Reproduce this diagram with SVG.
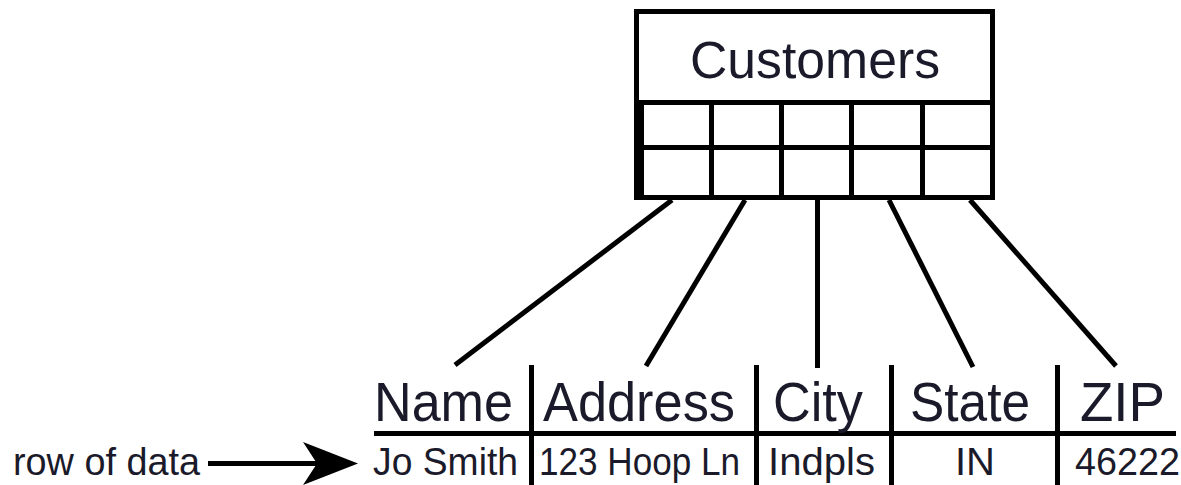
<svg xmlns="http://www.w3.org/2000/svg" width="1181" height="485" viewBox="0 0 1181 485">
<style>
.ln{stroke:#000;stroke-width:5;fill:none}
.t{font-family:"Liberation Sans",Arial,sans-serif;fill:#1a1a2a}
.h{font-size:56px}
.d{font-size:38px}
</style>
<rect width="1181" height="485" fill="#fff"/>
<g id="customers">
<rect x="636.5" y="11.5" width="356" height="186" class="ln"/>
<rect x="634" y="102" width="10" height="98" fill="#000"/>
<line x1="634" y1="102.5" x2="995" y2="102.5" class="ln"/>
<line x1="634" y1="147.5" x2="995" y2="147.5" class="ln"/>
<line x1="711.5" y1="102" x2="711.5" y2="200" class="ln"/>
<line x1="781.5" y1="102" x2="781.5" y2="200" class="ln"/>
<line x1="851.5" y1="102" x2="851.5" y2="200" class="ln"/>
<line x1="922.5" y1="102" x2="922.5" y2="200" class="ln"/>
<text class="t" x="690" y="78" font-size="51" textLength="250" lengthAdjust="spacingAndGlyphs">Customers</text>
</g>
<g id="connectors">
<line x1="672" y1="200" x2="455" y2="365" class="ln"/>
<line x1="745" y1="200" x2="646" y2="366" class="ln"/>
<line x1="817.5" y1="200" x2="817.5" y2="368" class="ln"/>
<line x1="889" y1="200" x2="973" y2="367" class="ln"/>
<line x1="970" y1="200" x2="1116" y2="366" class="ln"/>
<line x1="208" y1="463.5" x2="318" y2="463.5" class="ln"/>
<polygon points="303,442 358,463.5 303,485 317,463.5" fill="#000"/>
</g>
<g id="table">
<line x1="374" y1="433.5" x2="1176" y2="433.5" class="ln"/>
<line x1="531.5" y1="365" x2="531.5" y2="485" class="ln"/>
<line x1="756.5" y1="365" x2="756.5" y2="485" class="ln"/>
<line x1="891.5" y1="365" x2="891.5" y2="485" class="ln"/>
<line x1="1057.5" y1="365" x2="1057.5" y2="485" class="ln"/>
<text class="t h" x="374" y="421" textLength="139" lengthAdjust="spacingAndGlyphs">Name</text>
<text class="t h" x="543" y="421" textLength="192" lengthAdjust="spacingAndGlyphs">Address</text>
<text class="t h" x="773" y="421" textLength="90" lengthAdjust="spacingAndGlyphs">City</text>
<text class="t h" x="910" y="421" textLength="120" lengthAdjust="spacingAndGlyphs">State</text>
<text class="t h" x="1080" y="421" textLength="85" lengthAdjust="spacingAndGlyphs">ZIP</text>
<text class="t d" x="373" y="475" textLength="145" lengthAdjust="spacingAndGlyphs">Jo Smith</text>
<text class="t d" x="539" y="475" textLength="201" lengthAdjust="spacingAndGlyphs">123 Hoop Ln</text>
<text class="t d" x="768" y="475" textLength="107" lengthAdjust="spacingAndGlyphs">Indpls</text>
<text class="t d" x="955" y="475" textLength="40" lengthAdjust="spacingAndGlyphs">IN</text>
<text class="t d" x="1075" y="475" textLength="105" lengthAdjust="spacingAndGlyphs">46222</text>
</g>
<g id="row-label">
<text class="t d" x="13" y="475" textLength="187" lengthAdjust="spacingAndGlyphs">row of data</text>
</g>
</svg>
